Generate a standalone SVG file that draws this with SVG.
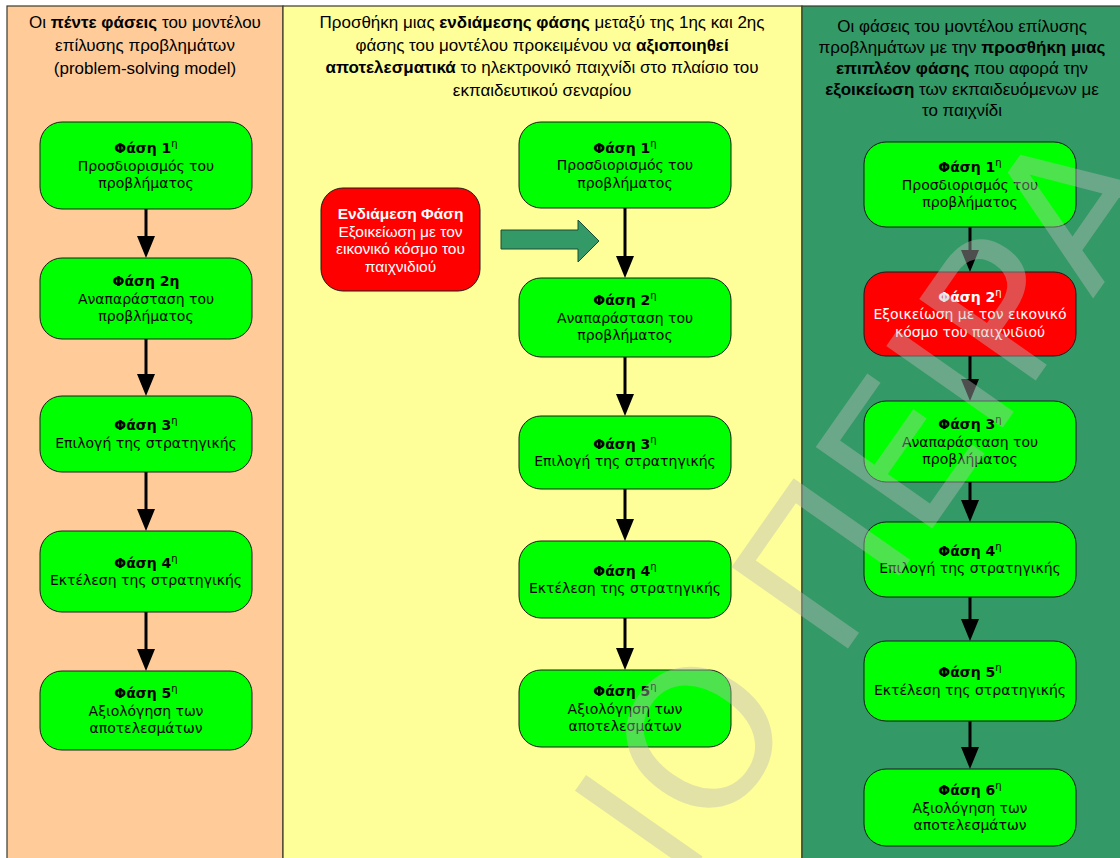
<svg xmlns="http://www.w3.org/2000/svg" width="1120" height="858" viewBox="0 0 1120 858">
<defs>
<style>
.panel{stroke:#3a3a2a;stroke-width:1.2}
.title{font-family:"Liberation Sans",Arial,sans-serif;font-size:17px;fill:#000;text-anchor:middle}
.b{font-weight:bold}
.node{fill:#00ff00;stroke:#1a1a1a;stroke-width:1}
.rnode{fill:#ff0000;stroke:#1a1a1a;stroke-width:1}
.t{font-family:"DejaVu Sans",Verdana,sans-serif;font-size:14px;fill:#000;text-anchor:middle}
.tw{font-family:"DejaVu Sans",Verdana,sans-serif;font-size:14px;fill:#fff;text-anchor:middle}
.ta{font-family:"Liberation Sans",Arial,sans-serif;font-size:15.5px;fill:#fff;text-anchor:middle}
.conn line{stroke:#000;stroke-width:3}
.conn polygon.head{fill:#000}
.conn polygon.block{fill:#339966;stroke:#1d4d33;stroke-width:1}
.wm{font-family:"DejaVu Sans",sans-serif;font-size:195px;fill:#bbbbbb;fill-opacity:0.42}
</style>
</defs>
<rect x="0" y="0" width="1120" height="858" fill="#ffffff"/>
<g id="panels">
<rect class="panel" x="7" y="6" width="276" height="870" fill="#ffcc99"/>
<rect class="panel" x="283" y="6" width="519" height="870" fill="#ffff99"/>
<rect class="panel" x="802" y="6" width="330" height="870" fill="#339966"/>
</g>
<g id="titles">
<text class="title" x="145" y="28"><tspan>Οι </tspan><tspan class="b">πέντε φάσεις</tspan><tspan> του μοντέλου</tspan></text>
<text class="title" x="145" y="51">επίλυσης προβλημάτων</text>
<text class="title" x="145" y="74">(problem-solving model)</text>
<text class="title" x="542" y="28"><tspan>Προσθήκη μιας </tspan><tspan class="b">ενδιάμεσης φάσης</tspan><tspan> μεταξύ της 1ης και 2ης</tspan></text>
<text class="title" x="542" y="51"><tspan>φάσης του μοντέλου προκειμένου να </tspan><tspan class="b">αξιοποιηθεί</tspan></text>
<text class="title" x="542" y="73"><tspan class="b">αποτελεσματικά</tspan><tspan> το ηλεκτρονικό παιχνίδι στο πλαίσιο του</tspan></text>
<text class="title" x="542" y="96">εκπαιδευτικού σεναρίου</text>
<text class="title" x="962" y="32">Οι φάσεις του μοντέλου επίλυσης</text>
<text class="title" x="962" y="53"><tspan>προβλημάτων με την </tspan><tspan class="b">προσθήκη μιας</tspan></text>
<text class="title" x="962" y="74"><tspan class="b">επιπλέον φάσης</tspan><tspan> που αφορά την</tspan></text>
<text class="title" x="962" y="95"><tspan class="b">εξοικείωση</tspan><tspan> των εκπαιδευόμενων με</tspan></text>
<text class="title" x="962" y="116">το παιχνίδι</text>
</g>
<g id="connectors" class="conn">
<line x1="146" y1="209" x2="146" y2="238"/><polygon class="head" points="137,236 155,236 146,258"/>
<line x1="146" y1="339" x2="146" y2="376"/><polygon class="head" points="137,374 155,374 146,396"/>
<line x1="146" y1="472" x2="146" y2="511"/><polygon class="head" points="137,509 155,509 146,531"/>
<line x1="146" y1="612" x2="146" y2="651"/><polygon class="head" points="137,649 155,649 146,671"/>
<line x1="625" y1="208" x2="625" y2="258"/><polygon class="head" points="616,256 634,256 625,278"/>
<line x1="625" y1="357" x2="625" y2="396"/><polygon class="head" points="616,394 634,394 625,416"/>
<line x1="625" y1="489" x2="625" y2="521"/><polygon class="head" points="616,519 634,519 625,541"/>
<line x1="625" y1="618" x2="625" y2="650"/><polygon class="head" points="616,648 634,648 625,670"/>
<line x1="970" y1="227" x2="970" y2="252"/><polygon class="head" points="961,250 979,250 970,272"/>
<line x1="970" y1="356" x2="970" y2="381"/><polygon class="head" points="961,379 979,379 970,401"/>
<line x1="970" y1="482" x2="970" y2="502"/><polygon class="head" points="961,500 979,500 970,522"/>
<line x1="970" y1="597" x2="970" y2="621"/><polygon class="head" points="961,619 979,619 970,641"/>
<line x1="970" y1="721" x2="970" y2="749"/><polygon class="head" points="961,747 979,747 970,769"/>
<polygon class="block" points="501,230 578,230 578,220 599,241 578,262 578,249 501,249"/>
</g>
<g id="c1n1"><rect class="node" x="40" y="122" width="212" height="87" rx="22"/><text class="t" x="146" y="153"><tspan class="b">Φάση 1</tspan><tspan font-size="10" dy="-6">η</tspan></text><text class="t" x="146" y="170.5">Προσδιορισμός του</text><text class="t" x="146" y="188">προβλήματος</text></g>
<g id="c1n2"><rect class="node" x="40" y="258" width="212" height="81" rx="22"/><text class="t" x="146" y="286" font-weight="bold">Φάση 2η</text><text class="t" x="146" y="303.5">Αναπαράσταση του</text><text class="t" x="146" y="321">προβλήματος</text></g>
<g id="c1n3"><rect class="node" x="40" y="396" width="212" height="76" rx="22"/><text class="t" x="146" y="430"><tspan class="b">Φάση 3</tspan><tspan font-size="10" dy="-6">η</tspan></text><text class="t" x="146" y="447.5">Επιλογή της στρατηγικής</text></g>
<g id="c1n4"><rect class="node" x="40" y="531" width="212" height="81" rx="22"/><text class="t" x="146" y="567.5"><tspan class="b">Φάση 4</tspan><tspan font-size="10" dy="-6">η</tspan></text><text class="t" x="146" y="585">Εκτέλεση της στρατηγικής</text></g>
<g id="c1n5"><rect class="node" x="40" y="671" width="212" height="79" rx="22"/><text class="t" x="146" y="698"><tspan class="b">Φάση 5</tspan><tspan font-size="10" dy="-6">η</tspan></text><text class="t" x="146" y="715.5">Αξιολόγηση των</text><text class="t" x="146" y="733">αποτελεσμάτων</text></g>
<g id="c2mid"><rect class="rnode" x="321" y="188" width="159" height="103" rx="22"/><text class="ta" x="400.5" y="219" font-weight="bold">Ενδιάμεση Φάση</text><text class="ta" x="400.5" y="236.5">Εξοικείωση με τον</text><text class="ta" x="400.5" y="254">εικονικό κόσμο του</text><text class="ta" x="400.5" y="271.5">παιχνιδιού</text></g>
<g id="c2n1"><rect class="node" x="519" y="122" width="212" height="86" rx="22"/><text class="t" x="625" y="152.5"><tspan class="b">Φάση 1</tspan><tspan font-size="10" dy="-6">η</tspan></text><text class="t" x="625" y="170">Προσδιορισμός του</text><text class="t" x="625" y="187.5">προβλήματος</text></g>
<g id="c2n2"><rect class="node" x="519" y="278" width="212" height="79" rx="22"/><text class="t" x="625" y="305"><tspan class="b">Φάση 2</tspan><tspan font-size="10" dy="-6">η</tspan></text><text class="t" x="625" y="322.5">Αναπαράσταση του</text><text class="t" x="625" y="340">προβλήματος</text></g>
<g id="c2n3"><rect class="node" x="519" y="416" width="212" height="73" rx="22"/><text class="t" x="625" y="448.75"><tspan class="b">Φάση 3</tspan><tspan font-size="10" dy="-6">η</tspan></text><text class="t" x="625" y="466.25">Επιλογή της στρατηγικής</text></g>
<g id="c2n4"><rect class="node" x="519" y="541" width="212" height="77" rx="22"/><text class="t" x="625" y="575.75"><tspan class="b">Φάση 4</tspan><tspan font-size="10" dy="-6">η</tspan></text><text class="t" x="625" y="593.25">Εκτέλεση της στρατηγικής</text></g>
<g id="c2n5"><rect class="node" x="519" y="670" width="212" height="77" rx="22"/><text class="t" x="625" y="696"><tspan class="b">Φάση 5</tspan><tspan font-size="10" dy="-6">η</tspan></text><text class="t" x="625" y="713.5">Αξιολόγηση των</text><text class="t" x="625" y="731">αποτελεσμάτων</text></g>
<g id="c3n1"><rect class="node" x="864" y="142" width="212" height="85" rx="22"/><text class="t" x="970" y="172"><tspan class="b">Φάση 1</tspan><tspan font-size="10" dy="-6">η</tspan></text><text class="t" x="970" y="189.5">Προσδιορισμός του</text><text class="t" x="970" y="207">προβλήματος</text></g>
<g id="c3n2"><rect class="rnode" x="864" y="272" width="212" height="84" rx="22"/><text class="tw" x="970" y="301.5" fill="#eeeeee"><tspan class="b">Φάση 2</tspan><tspan font-size="10" dy="-6">η</tspan></text><text class="tw" x="970" y="319">Εξοικείωση με τον εικονικό</text><text class="tw" x="970" y="336.5">κόσμο του παιχνιδιού</text></g>
<g id="c3n3"><rect class="node" x="864" y="401" width="212" height="81" rx="22"/><text class="t" x="970" y="429"><tspan class="b">Φάση 3</tspan><tspan font-size="10" dy="-6">η</tspan></text><text class="t" x="970" y="446.5">Αναπαράσταση του</text><text class="t" x="970" y="464">προβλήματος</text></g>
<g id="c3n4"><rect class="node" x="864" y="522" width="212" height="75" rx="22"/><text class="t" x="970" y="555.75"><tspan class="b">Φάση 4</tspan><tspan font-size="10" dy="-6">η</tspan></text><text class="t" x="970" y="573.25">Επιλογή της στρατηγικής</text></g>
<g id="c3n5"><rect class="node" x="864" y="641" width="212" height="80" rx="22"/><text class="t" x="970" y="677.25"><tspan class="b">Φάση 5</tspan><tspan font-size="10" dy="-6">η</tspan></text><text class="t" x="970" y="694.75">Εκτέλεση της στρατηγικής</text></g>
<g id="c3n6"><rect class="node" x="864" y="769" width="212" height="77" rx="22"/><text class="t" x="970" y="795"><tspan class="b">Φάση 6</tspan><tspan font-size="10" dy="-6">η</tspan></text><text class="t" x="970" y="812.5">Αξιολόγηση των</text><text class="t" x="970" y="830">αποτελεσμάτων</text></g>
<g id="watermark" transform="translate(700,738) rotate(-55)">
<text class="wm" x="-134" y="70">ΙΟ ΠΕΙΡΑ</text>
</g>
</svg>
